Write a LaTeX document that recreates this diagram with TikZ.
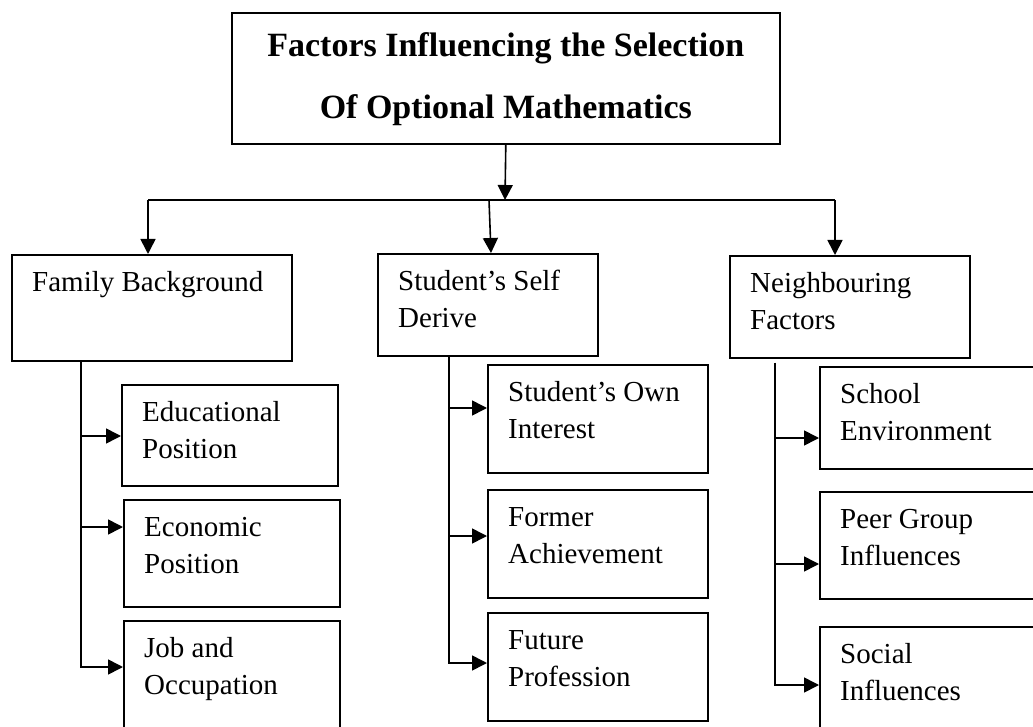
\documentclass[tikz,border=0pt]{standalone}
\usepackage{fontspec}
\setmainfont{Liberation Serif}
\usetikzlibrary{arrows.meta,calc}

% box with its text set from the top-left corner
\newcommand\mkbox[6]{%
  \node[boxshape, minimum width=#4pt, minimum height=#5pt] (#1) at (#2,#3) {};
  \node[boxtext] (#1-t) at ($(#1.north west)+(21,11.1)$) {\strut #6};
}

\begin{document}
\begin{tikzpicture}[x=1pt,y=-1pt,
  boxshape/.style={draw, rectangle, anchor=north west, inner sep=0pt, line width=1.6pt},
  boxtext/.style={anchor=north west, inner sep=0pt, align=left,
    font=\fontsize{29}{37}\selectfont},
  titletext/.style={anchor=north, inner sep=0pt, align=center,
    font=\fontsize{34}{62}\selectfont\bfseries},
  link/.style={line width=1.6pt},
  arr/.style={link, -{Triangle[length=15pt,width=15pt]}}]

\useasboundingbox (0,0) rectangle (1033,727);
\clip (0,0) rectangle (1033,727);

% title
\node[boxshape, minimum width=548pt, minimum height=131pt] (title) at (231,12) {};
\node[titletext] (title-t) at ($(title.north)+(0,0.6)$)
  {\strut Factors Influencing the Selection\\Of Optional Mathematics};

% main groups
\mkbox{fam}{11}{254}{280}{106}{Family Background}
\mkbox{stu}{377}{253}{220}{102}{Student’s Self\\Derive}
\mkbox{nb}{729}{255}{240}{102}{Neighbouring\\Factors}

% family background
\mkbox{edu}{121}{384}{216}{101}{Educational\\Position}
\mkbox{eco}{123}{499}{216}{107}{Economic\\Position}
\mkbox{job}{123}{620}{216}{130}{Job and\\Occupation}

% student's self derive
\mkbox{own}{487}{364}{220}{108}{Student’s Own\\Interest}
\mkbox{former}{487}{489}{220}{108}{Former\\Achievement}
\mkbox{future}{487}{612}{220}{108}{Future\\Profession}

% neighbouring factors
\mkbox{school}{819}{366}{230}{102}{School\\Environment}
\mkbox{peer}{819}{491}{230}{107}{Peer Group\\Influences}
\mkbox{social}{819}{626}{230}{130}{Social\\Influences}

% distribution from the title
\coordinate (hub) at (505,200);
\coordinate (hl) at (148,200);
\coordinate (hm) at (489,200);
\coordinate (hr) at (835,200);
\draw[arr] (title.south) -- (hub);
\draw[link] (hl) -- (hr);
\draw[arr] (hl) -- (hl |- fam.north);
\draw[arr] (hm) -- ($(stu.north west)+(114,0)$);
\draw[arr] (hr) -- (hr |- nb.north);

% family background branches
\coordinate (ft) at ($(fam.south west)+(70,0)$);
\coordinate (f1) at (81,436);
\coordinate (f2) at (81,527);
\coordinate (f3) at (81,667);
\draw[arr] (ft) -- (f3) -- (f3 -| job.west);
\draw[arr] (f1) -- (f1 -| edu.west);
\draw[arr] (f2) -- (f2 -| eco.west);

% student's self derive branches
\coordinate (st) at ($(stu.south west)+(72,0)$);
\coordinate (s1) at (449,408);
\coordinate (s2) at (449,536);
\coordinate (s3) at (449,663);
\draw[arr] (st) -- (s3) -- (s3 -| future.west);
\draw[arr] (s1) -- (s1 -| own.west);
\draw[arr] (s2) -- (s2 -| former.west);

% neighbouring factors branches
\coordinate (nt) at ($(nb.south west)+(46,4)$);
\coordinate (n1) at (775,438);
\coordinate (n2) at (775,564);
\coordinate (n3) at (775,685);
\draw[arr] (nt) -- (n3) -- (n3 -| social.west);
\draw[arr] (n1) -- (n1 -| school.west);
\draw[arr] (n2) -- (n2 -| peer.west);
\end{tikzpicture}
\end{document}
